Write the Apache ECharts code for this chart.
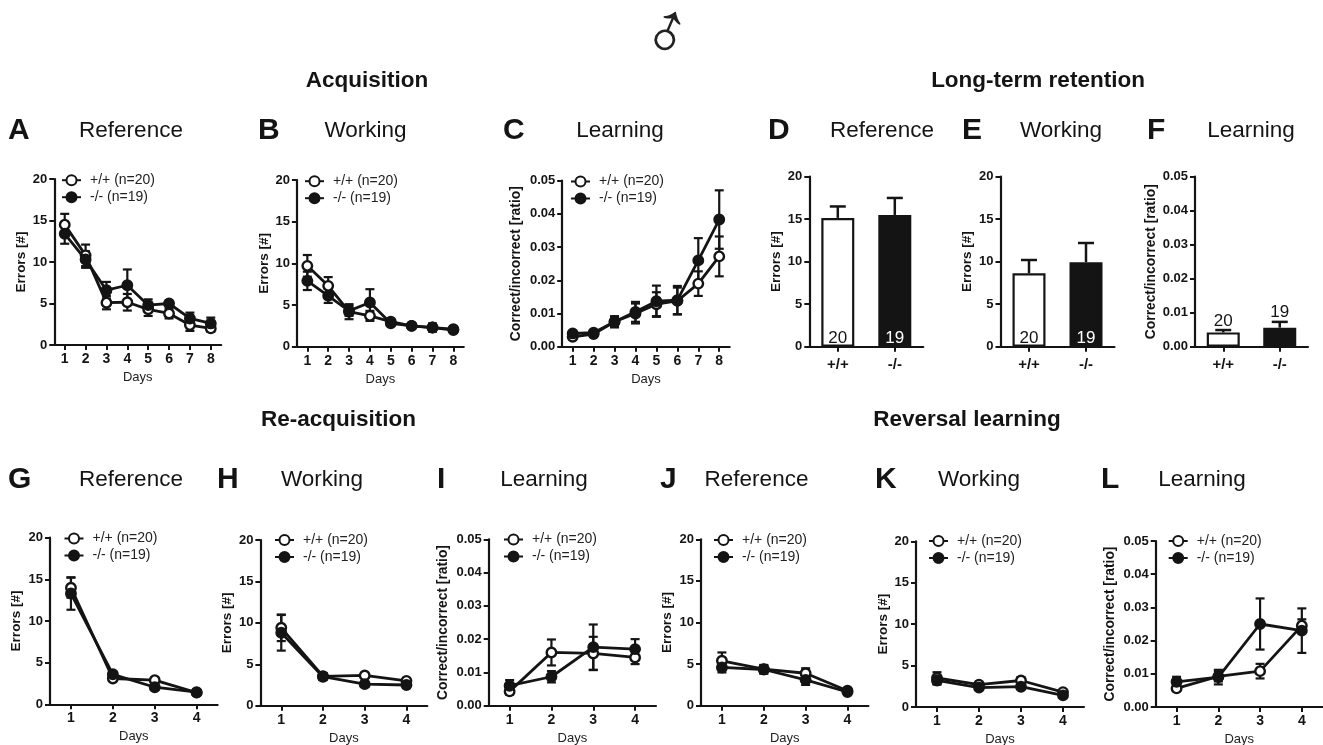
<!DOCTYPE html>
<html><head><meta charset="utf-8">
<style>html,body{margin:0;padding:0;background:#fff}#c{width:1323px;height:745px}</style>
<script src="https://cdn.jsdelivr.net/npm/echarts@6/dist/echarts.min.js"></script></head>
<body><div id="c"></div>
<script>
// ---------- data ----------
const days8 = ['1','2','3','4','5','6','7','8'];
const days4 = ['1','2','3','4'];
const genotypes = ['+/+','-/-'];
const nameWT = '+/+ (n=20)', nameKO = '-/- (n=19)';
const groupN = [20,19];
const ticksErrors = [0,5,10,15,20];
const ticksRatio = [0,0.01,0.02,0.03,0.04,0.05];

const aWT=[14.5,10.8,5.1,5.15,4.3,3.8,2.4,2.0], aWTe=[1.3,1.3,0.8,1.0,0.8,0.6,0.7,0.4];
const aKO=[13.4,10.3,6.6,7.2,4.8,5.0,3.2,2.6], aKOe=[1.2,1.0,1.0,1.9,0.7,0.3,0.7,0.7];
const bWT=[9.7,7.3,4.2,3.7,3.0,2.5,2.3,2.1], bWTe=[1.3,1.05,0.9,0.6,0.3,0.25,0.4,0.2];
const bKO=[7.9,6.1,4.3,5.3,2.8,2.5,2.3,2.0], bKOe=[1.1,0.85,0.6,1.6,0.3,0.3,0.5,0.3];
const cWT=[0.0030,0.0038,0.0075,0.0100,0.0128,0.0138,0.0190,0.0272], cWTe=[0.0007,0.0005,0.0015,0.003,0.0036,0.004,0.0037,0.006];
const cKO=[0.0040,0.0042,0.0075,0.0105,0.0137,0.0140,0.0260,0.0383], cKOe=[0.0006,0.0005,0.0017,0.003,0.0047,0.0043,0.0067,0.0088];
const dVal=[15.15,15.5], dErr=[1.35,2.0];
const eVal=[8.65,9.95], eErr=[1.55,2.25];
const fVal=[0.0042,0.0056], fErr=[0.0007,0.0017];
const gWT=[14.0,3.1,2.9,1.4], gWTe=[1.2,0.3,0.3,0.2];
const gKO=[13.3,3.6,2.05,1.45], gKOe=[1.95,0.3,0.3,0.3];
const hWT=[9.4,3.55,3.65,3.0], hWTe=[1.6,0.4,0.3,0.2];
const hKO=[8.8,3.5,2.6,2.5], hKOe=[2.15,0.4,0.3,0.3];
const iWT=[0.0043,0.0160,0.0157,0.0145], iWTe=[0.001,0.0039,0.0050,0.0020];
const iKO=[0.0060,0.0087,0.0176,0.0170], iKOe=[0.0017,0.0017,0.0068,0.0030];
const jWT=[5.4,4.4,3.9,1.8], jWTe=[1.0,0.5,0.6,0.25];
const jKO=[4.6,4.35,3.1,1.65], jKOe=[0.6,0.5,0.6,0.3];
const kWT=[3.5,2.7,3.2,1.8], kWTe=[0.7,0.2,0.4,0.2];
const kKO=[3.2,2.35,2.45,1.4], kKOe=[0.5,0.25,0.3,0.25];
const lWT=[0.0056,0.0092,0.0108,0.0245], lWTe=[0.0008,0.0015,0.0022,0.0019];
const lKO=[0.0076,0.0090,0.0250,0.0230], lKOe=[0.0015,0.0022,0.0077,0.0067];

// ---------- layout ----------
const FONT='"Liberation Sans", Arial, sans-serif', INK='#141414';
const ERR='Errors [#]', RATIO='Correct/incorrect [ratio]';
const panels=[
 {L:'A',T:'Reference',lx:8, tx:131,ty:131,g:[54.3,166.9,179,345],y:ERR,k:[aWT,aWTe,aKO,aKOe],leg:[61,180.7],nx:20},
 {L:'B',T:'Working',lx:258,tx:365.5,ty:131,g:[296.9,166.9,180,346.7],y:ERR,k:[bWT,bWTe,bKO,bKOe],leg:[304,181.7],nx:263},
 {L:'C',T:'Learning',lx:503,tx:620,ty:131,g:[562.2,167.5,180.7,346.7],y:RATIO,k:[cWT,cWTe,cKO,cKOe],leg:[570,182],nx:515.6},
 {L:'D',T:'Reference',lx:768,tx:882,ty:131,g:[809.3,114,176.7,346.7],y:ERR,b:[dVal,dErr],nx:775},
 {L:'E',T:'Working',lx:962,tx:1061,ty:131,g:[1000.5,114,176.7,346.7],y:ERR,b:[eVal,eErr],nx:966},
 {L:'F',T:'Learning',lx:1147,tx:1251,ty:131,g:[1195,113,176.7,346.7],y:RATIO,b:[fVal,fErr],nx:1150,above:true},
 {L:'G',T:'Reference',lx:8, tx:131,ty:480,g:[50,167.6,537.7,704.3],y:ERR,k:[gWT,gWTe,gKO,gKOe],leg:[63.5,539],nx:15.6},
 {L:'H',T:'Working',lx:217,tx:322,ty:480,g:[260.4,166.9,540,705.7],y:ERR,k:[hWT,hWTe,hKO,hKOe],leg:[274,540.5],nx:226},
 {L:'I',T:'Learning',lx:437,tx:544,ty:480,g:[488.7,167.3,539.3,705.7],y:RATIO,k:[iWT,iWTe,iKO,iKOe],leg:[503,540],nx:442},
 {L:'J',T:'Reference',lx:660,tx:756.5,ty:480,g:[701,167.4,539.3,705.7],y:ERR,k:[jWT,jWTe,jKO,jKOe],leg:[713,540.5],nx:666},
 {L:'K',T:'Working',lx:875,tx:979,ty:480,g:[916,168,541.3,707],y:ERR,k:[kWT,kWTe,kKO,kKOe],leg:[928,541.5],nx:882},
 {L:'L',T:'Learning',lx:1101,tx:1202,ty:480,g:[1155.7,167,541,707],y:RATIO,k:[lWT,lWTe,lKO,lKOe],leg:[1167.7,541.5],nx:1109.4}
];
const sections=[['Acquisition',367,81],['Long-term retention',1038,81],['Re-acquisition',338.5,420],['Reversal learning',967,420]];

// ---------- helpers ----------
function errSeries(idx,vals,errs,name,capOnlyTop,halfCap,w){
  return {type:'custom',name:name,xAxisIndex:idx,yAxisIndex:idx,z:3,silent:true,clip:false,
    encode:{x:0,y:[1,2]},
    data:vals.map((v,i)=>[i,capOnlyTop?v:v-errs[i],v+errs[i]]),
    renderItem:(p,api)=>{
      const lo=api.coord([api.value(0),api.value(1)]),hi=api.coord([api.value(0),api.value(2)]);
      const st={stroke:INK,lineWidth:w,fill:null};
      const kids=[{type:'line',shape:{x1:lo[0],y1:lo[1],x2:hi[0],y2:hi[1]},style:st},
                  {type:'line',shape:{x1:hi[0]-halfCap,y1:hi[1],x2:hi[0]+halfCap,y2:hi[1]},style:st}];
      if(!capOnlyTop)kids.push({type:'line',shape:{x1:lo[0]-halfCap,y1:lo[1],x2:lo[0]+halfCap,y2:lo[1]},style:st});
      return {type:'group',children:kids};
    }};
}
function lineSeries(idx,vals,name,fill,z){
  return {type:'line',name:name,xAxisIndex:idx,yAxisIndex:idx,data:vals,z:z,silent:true,
    symbol:'circle',symbolSize:9.5,showAllSymbol:true,
    lineStyle:{color:INK,width:2.8},
    itemStyle:{color:fill,borderColor:INK,borderWidth:2.4}};
}
const grid=[],xAxis=[],yAxis=[],series=[],legend=[],title=[];
function addTitle(text,x,y,size,weight,family){
  title.push({text:text,left:x,top:y,textAlign:'center',textVerticalAlign:'middle',padding:0,
    textStyle:{fontFamily:family||FONT,fontSize:size,fontWeight:weight,color:INK}});
}
sections.forEach(s=>addTitle(s[0],s[1],s[2],22.5,'bold'));
panels.forEach((p,i)=>{
  const [l,w,t,b]=p.g;
  grid.push({left:l,width:w,top:t,height:b-t,containLabel:false,outerBoundsMode:'none'});
  title.push({text:p.L,left:p.lx,top:p.ty,textVerticalAlign:'middle',padding:0,
    textStyle:{fontFamily:FONT,fontSize:30,fontWeight:'bold',color:INK}});
  addTitle(p.T,p.tx,p.ty,22.5,'normal');
  const isBar=!!p.b, ratio=p.y===RATIO;
  const cats=isBar?genotypes:(p.k[0].length===8?days8:days4);
  const axisLine={show:true,onZero:false,lineStyle:{color:INK,width:2.2}};
  const axisTick={show:true,length:5,alignWithLabel:true,lineStyle:{color:INK,width:2}};
  xAxis.push({type:'category',gridIndex:i,data:cats,boundaryGap:true,axisLine,axisTick,
    axisLabel:{fontFamily:FONT,fontWeight:'bold',fontSize:isBar?15:14,color:INK,margin:isBar?11:7,interval:0},
    name:isBar?'':'Days',nameLocation:'middle',nameGap:26,
    nameTextStyle:{fontFamily:FONT,fontSize:13,color:'#222'},splitLine:{show:false}});
  const tk=ratio?ticksRatio:ticksErrors;
  yAxis.push({type:'value',gridIndex:i,min:tk[0],max:tk[tk.length-1],interval:tk[1],
    axisLine,axisTick:{show:true,length:5,lineStyle:{color:INK,width:2}},splitLine:{show:false},
    axisLabel:{fontFamily:FONT,fontWeight:'bold',fontSize:13,color:INK,margin:7,
      formatter:v=>ratio?v.toFixed(2):String(v)},
    name:p.y,nameLocation:'middle',nameGap:l-p.nx-8,nameRotate:90,
    nameTextStyle:{fontFamily:FONT,fontWeight:'bold',fontSize:ratio?13.8:13.5,color:INK}});
  if(isBar){
    const [vals,errs]=p.b;
    series.push({type:'bar',name:'bars'+p.L,xAxisIndex:i,yAxisIndex:i,barWidth:33,silent:true,z:2,
      data:vals.map((v,j)=>({value:v,
        itemStyle:{color:j?INK:'#fff',borderColor:INK,borderWidth:2.2},
        label:{show:true,formatter:String(groupN[j]),fontFamily:FONT,fontSize:17,
          position:p.above?'top':'insideBottom',distance:p.above?(j?7:3):0,
          color:(j&&!p.above)?'#fff':INK}}))});
    series.push(errSeries(i,vals,errs,'err'+p.L,true,8,2.5));
  }else{
    const [wt,wte,ko,koe]=p.k;
    series.push(errSeries(i,wt,wte,'errWT'+p.L,false,4.5,2.2));
    series.push(errSeries(i,ko,koe,'errKO'+p.L,false,4.5,2.2));
    series.push(lineSeries(i,wt,nameWT,'#fff',4));
    series.push(lineSeries(i,ko,nameKO,INK,5));
    legend.push({show:true,left:p.leg[0],top:p.leg[1]-7.5,orient:'vertical',padding:0,itemGap:3,
      itemWidth:19,itemHeight:12.5,selectedMode:false,data:[nameWT,nameKO],
      textStyle:{fontFamily:FONT,fontSize:14,color:'#222',padding:[0,0,0,4]}});
  }
});
const graphic=[{type:'text',x:669.3,y:37.1,rotation:0.38,silent:true,
  style:{text:'\u2642',fontFamily:'"Liberation Sans"',fontSize:74,fill:'#222',align:'center',verticalAlign:'middle'}}];

const chart=echarts.init(document.getElementById('c'),null,{renderer:'canvas'});
chart.setOption({animation:false,backgroundColor:'#fff',title,legend,grid,xAxis,yAxis,series,graphic,tooltip:{show:false}});
</script></body></html>
